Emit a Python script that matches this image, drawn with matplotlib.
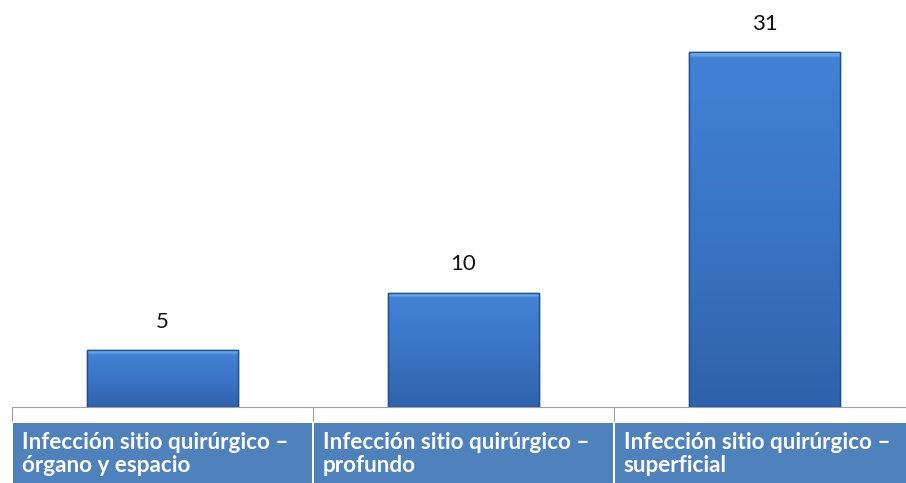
import numpy as np
import matplotlib
matplotlib.use("Agg")
from matplotlib import pyplot as plt
from matplotlib.patches import Rectangle
from matplotlib.colors import LinearSegmentedColormap
from matplotlib.transforms import blended_transform_factory

categorias = ["Infección sitio quirúrgico –\nórgano y espacio",
              "Infección sitio quirúrgico –\nprofundo",
              "Infección sitio quirúrgico –\nsuperficial"]
valores = [5, 10, 31]

fig = plt.figure(figsize=(9.06, 4.83), dpi=100)
ax = fig.add_axes([12/906, 76/483, 894/906, 407/483])
ax.set_xlim(-0.5, 2.47)
ax.set_ylim(0, 35.55)

x = np.arange(len(valores))
bars = ax.bar(x, valores, width=0.5, color="#3a74c4", edgecolor="#23508f", linewidth=1.0, zorder=2)

# degradado vertical en cada barra + borde superior claro
cuerpo = LinearSegmentedColormap.from_list("azul", ["#2f62aa", "#3a74c4", "#4282d4"])
bisel = LinearSegmentedColormap.from_list("bisel", ["#4282d4", "#6aa5e8", "#8cbcf0"])
grad = np.linspace(0, 1, 256).reshape(-1, 1)
banda = 0.5
for b in bars:
    x0, w, h = b.get_x(), b.get_width(), b.get_height()
    im = ax.imshow(grad, cmap=cuerpo, aspect="auto", origin="lower",
                   extent=(x0, x0 + w, 0, h - banda), zorder=3)
    im.set_clip_path(b)
    im2 = ax.imshow(grad, cmap=bisel, aspect="auto", origin="lower",
                    extent=(x0, x0 + w, h - banda, h), zorder=3)
    im2.set_clip_path(b)
    ax.add_patch(Rectangle((x0, 0), w, h, fill=False, edgecolor="#23508f", linewidth=1.0, zorder=4))

for xi, v in zip(x, valores):
    ax.annotate(str(v), (xi, v), xytext=(0, 13), textcoords="offset points",
                ha="center", va="bottom", fontsize=16, family="Lato", color="#111111")

for s in ["top", "right", "left"]:
    ax.spines[s].set_visible(False)
ax.spines["bottom"].set_color("#a0a0a0")
ax.set_yticks([])
ax.set_xticks([-0.5, 0.5, 1.5])
ax.set_xticklabels([])
ax.tick_params(axis="x", length=10, color="#a0a0a0", direction="out")

# celdas azules de etiquetas
tr = blended_transform_factory(ax.transData, fig.transFigure)
for xi, lab in zip(x, categorias):
    ax.add_patch(Rectangle((xi - 0.498, 0), 0.996, 60/483, transform=tr,
                           facecolor="#4f81bd", edgecolor="none", clip_on=False))
    ax.text(xi - 0.467, 29/483, lab, transform=tr, ha="left", va="center",
            fontsize=16.2, family="Lato", fontweight="bold", color="white",
            linespacing=1.1)

fig.savefig("out.png", dpi=100, facecolor="white")
